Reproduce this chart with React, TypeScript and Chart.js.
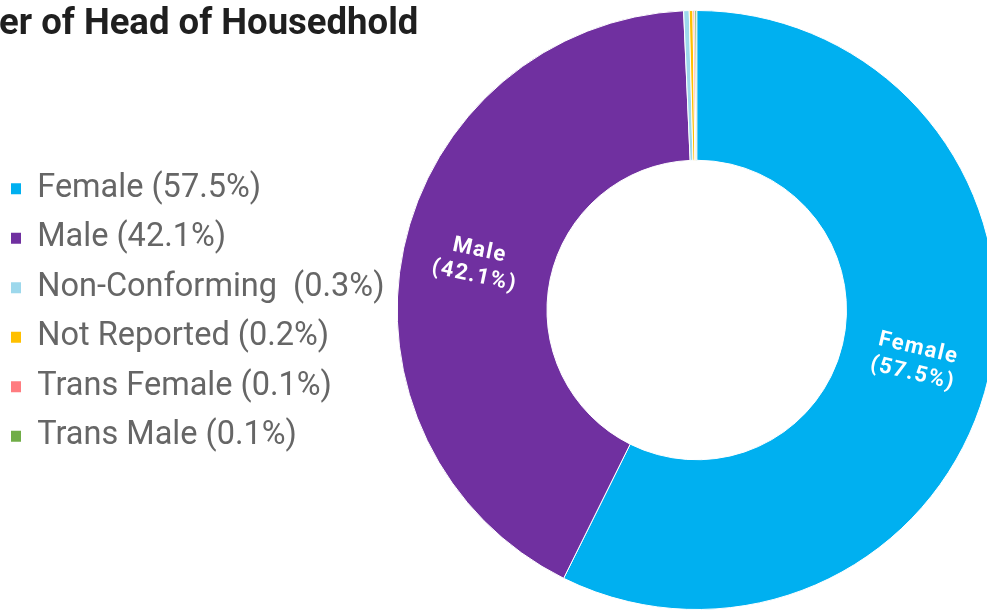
import React, { useEffect, useRef } from "react";
import { Chart, registerables } from "chart.js";

Chart.register(...registerables);

const titleHidden = "Gend";
const titleVisible = "er of Head of Housedhold";
const categories = ["Female", "Male", "Non-Conforming", "Not Reported", "Trans Female", "Trans Male"];
const values = [57.5, 42.1, 0.3, 0.2, 0.1, 0.1];
const legendLabels = [
  "Female (57.5%)",
  "Male (42.1%)",
  "Non-Conforming  (0.3%)",
  "Not Reported (0.2%)",
  "Trans Female (0.1%)",
  "Trans Male (0.1%)",
];
const colors = ["#00B0F0", "#7030A0", "#9DD8EC", "#FFC000", "#FF7C80", "#70AD47"];

const arcLabels = {
  id: "arcLabels",
  afterDatasetsDraw(chart: any) {
    const ctx = chart.ctx;
    const meta = chart.getDatasetMeta(0);
    meta.data.forEach((arc: any, i: number) => {
      if (values[i] < 5) return;
      const { x, y, startAngle, endAngle, innerRadius, outerRadius } = arc.getProps(
        ["x", "y", "startAngle", "endAngle", "innerRadius", "outerRadius"],
        true
      );
      const mid = (startAngle + endAngle) / 2;
      const r = (innerRadius + outerRadius) / 2;
      const px = x + Math.cos(mid) * r;
      const py = y + Math.sin(mid) * r;
      let rot = mid;
      if (Math.cos(mid) < 0) rot = mid + Math.PI;
      ctx.save();
      ctx.translate(px, py);
      ctx.rotate(rot);
      ctx.fillStyle = "#ffffff";
      ctx.font = "bold 22px Roboto";
      try { (ctx as any).letterSpacing = "1.5px"; } catch (e) {}
      ctx.textAlign = "center";
      ctx.textBaseline = "middle";
      ctx.fillText(categories[i], 0, -13);
      ctx.fillText("(" + values[i].toFixed(1) + "%)", 0, 13);
      ctx.restore();
    });
  },
};

export default function App() {
  const ref = useRef<HTMLCanvasElement | null>(null);
  useEffect(() => {
    if (!ref.current) return;
    const chart = new Chart(ref.current, {
      type: "doughnut",
      data: {
        labels: categories,
        datasets: [
          {
            data: values,
            backgroundColor: colors,
            borderColor: "#ffffff",
            borderWidth: 1,
          },
        ],
      },
      options: {
        responsive: false,
        maintainAspectRatio: false,
        animation: false,
        cutout: "50%",
        layout: { padding: { left: -6, top: 10, bottom: 10, right: 31 } },
        plugins: {
          tooltip: { enabled: false },
          title: { display: false },
          legend: {
            position: "left",
            title: {
              display: true,
              text: "",
              font: { size: 1 },
              padding: { top: 2, bottom: 2 },
            },
            labels: {
              color: "#666666",
              font: { family: "Roboto", size: 32.5, weight: "normal" },
              boxWidth: 10,
              boxHeight: 11,
              padding: 17,
              generateLabels: (c: any) => {
                const base = Chart.overrides.doughnut.plugins.legend.labels.generateLabels(c);
                return base.map((l: any, i: number) => ({
                  ...l,
                  text: legendLabels[i],
                  lineWidth: 0,
                }));
              },
            },
          },
        },
      },
      plugins: [arcLabels],
    });
    return () => chart.destroy();
  }, []);

  return (
    <div
      style={{
        position: "fixed",
        left: 0,
        top: 0,
        width: 987,
        height: 612,
        overflow: "hidden",
        background: "#ffffff",
      }}
    >
      <canvas
        ref={ref}
        width={1030}
        height={620}
        style={{ position: "absolute", left: 0, top: 0, width: 1030, height: 620 }}
      />
      <div
        style={{
          position: "absolute",
          left: -1,
          top: 4,
          fontFamily: "Roboto",
          fontWeight: 700,
          fontSize: 36.5,
          lineHeight: 1,
          color: "#1f1f1f",
          whiteSpace: "nowrap",
        }}
      >
        <span style={{ position: "absolute", right: "100%" }}>{titleHidden}</span>
        {titleVisible}
      </div>
    </div>
  );
}
